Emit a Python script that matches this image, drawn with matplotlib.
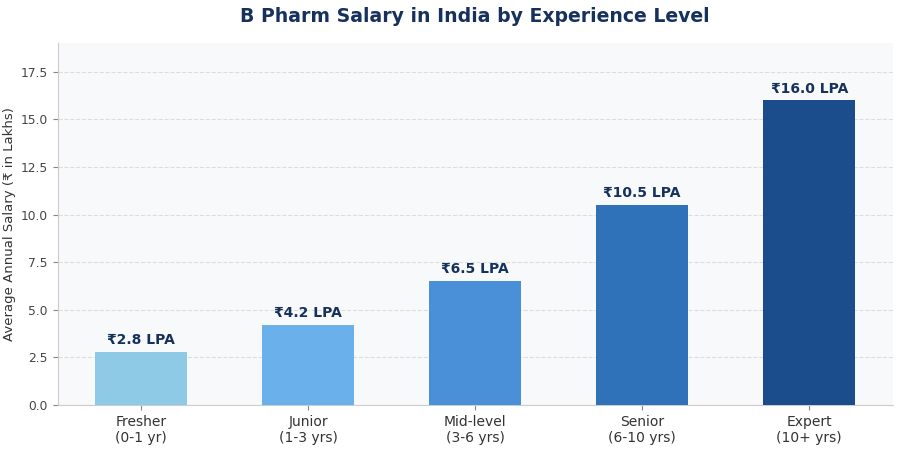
import matplotlib
matplotlib.use("Agg")
import matplotlib.pyplot as plt

categories = ["Fresher\n(0-1 yr)", "Junior\n(1-3 yrs)", "Mid-level\n(3-6 yrs)", "Senior\n(6-10 yrs)", "Expert\n(10+ yrs)"]
salaries = [2.8, 4.2, 6.5, 10.5, 16.0]
bar_colors = ["#8ecae6", "#6ab0ea", "#4a90d9", "#3072ba", "#1b4d8c"]
yticks = [0.0, 2.5, 5.0, 7.5, 10.0, 12.5, 15.0, 17.5]

fig = plt.figure(figsize=(9, 4.5), dpi=100)
ax = fig.add_axes([0.064, 0.1, 0.928, 0.804])
ax.set_facecolor("#f8f9fb")

x = list(range(len(categories)))
ax.bar(x, salaries, width=0.55, color=bar_colors, zorder=3)
for xi, v in zip(x, salaries):
    ax.text(xi, v + 0.25, f"₹{v:.1f} LPA", ha="center", va="bottom",
            fontsize=10, fontweight="bold", color="#16325c", zorder=4)

ax.set_xlim(-0.5, 4.5)
ax.set_ylim(0, 19)
ax.set_xticks(x)
ax.set_xticklabels(categories, fontsize=10, color="#333333")
ax.set_yticks(yticks)
ax.set_yticklabels([f"{t:.1f}" for t in yticks], fontsize=8.8, color="#444444")
ax.set_ylabel("Average Annual Salary (₹ in Lakhs)", fontsize=9.5, color="#333333", labelpad=3)
ax.yaxis.grid(True, linestyle="--", color="#dddddd", linewidth=0.8, zorder=0)
ax.set_axisbelow(True)
for s in ["top", "right"]:
    ax.spines[s].set_visible(False)
for s in ["left", "bottom"]:
    ax.spines[s].set_color("#cccccc")
ax.tick_params(axis="both", colors="#888888", labelcolor="#444444")
ax.tick_params(axis="x", labelcolor="#333333")

ax.set_title("B Pharm Salary in India by Experience Level", fontsize=13.6,
             fontweight="bold", color="#16325c", pad=15)

fig.savefig("out.png", dpi=100, facecolor="white")
